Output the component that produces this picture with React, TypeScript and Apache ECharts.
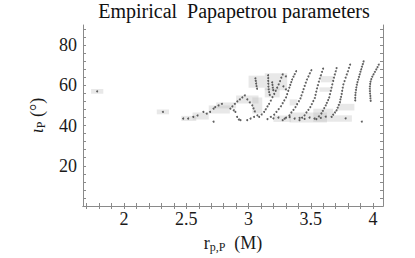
import React, { useEffect, useRef } from "react";
import * as echarts from "echarts";

const titleText = "Empirical  Papapetrou parameters";
const xLabels = [2, 2.5, 3, 3.5, 4];
const xTicks = [1.7, 1.8, 1.9, 2.0, 2.1, 2.2, 2.3, 2.4, 2.5, 2.6, 2.7, 2.8, 2.9, 3.0, 3.1, 3.2, 3.3, 3.4, 3.5, 3.6, 3.7, 3.8, 3.9, 4.0];
const yLabels = [20, 40, 60, 80];
const yTicks = [4, 8, 12, 16, 20, 24, 28, 32, 36, 40, 44, 48, 52, 56, 60, 64, 68, 72, 76, 80, 84, 88];

// gray uncertainty boxes: [xmin, xmax, ymin, ymax]
const boxes = [
  [1.735, 1.833, 55.8, 58.2],
  [2.263, 2.361, 45.6, 48.0],
  [2.46, 2.58, 42.3, 44.8],
  [2.55, 2.68, 43.0, 46.5],
  [2.68, 2.85, 46.0, 50.0],
  [2.74, 2.9, 48.5, 51.5],
  [2.9, 3.08, 51.0, 55.0],
  [3.0, 3.13, 58.8, 64.8],
  [3.13, 3.31, 57.5, 66.0],
  [3.13, 3.25, 54.0, 58.5],
  [3.03, 3.11, 46.0, 54.0],
  [3.2, 3.34, 41.8, 45.0],
  [3.33, 3.63, 41.5, 46.5],
  [3.52, 3.68, 41.9, 48.4],
  [3.58, 3.68, 61.5, 64.6],
  [3.57, 3.66, 56.8, 59.0],
  [3.72, 3.85, 47.5, 50.8],
  [3.68, 3.83, 41.9, 45.1],
  [3.33, 3.39, 50.0, 53.0],
];

// dots (x, y)
const dots = [
  [1.784, 57.0], [2.312, 46.8],
  // curve 1
  [4.046, 70.3], [4.036, 69.1], [4.026, 67.9], [4.015, 66.7], [4.004, 65.5], [3.994, 64.3], [3.986, 63.1], [3.98, 61.9],
  [3.977, 60.7], [3.975, 59.5], [3.974, 58.3], [3.975, 57.1], [3.976, 55.9], [3.978, 54.7], [3.979, 53.5], [3.981, 52.3],
  // curve 2
  [3.924, 71.9], [3.918, 70.6], [3.911, 69.3], [3.905, 68.0], [3.899, 66.8], [3.893, 65.5], [3.887, 64.2], [3.881, 62.9],
  [3.875, 61.6], [3.87, 60.3], [3.866, 59.0], [3.863, 57.7], [3.86, 56.4], [3.858, 55.1], [3.857, 53.8], [3.857, 52.5],
  // curve 3
  [3.816, 70.3], [3.807, 68.7], [3.798, 67.0], [3.789, 65.4], [3.78, 63.8], [3.771, 62.1], [3.762, 60.5], [3.757, 58.9],
  [3.752, 57.3], [3.748, 55.7], [3.743, 54.3], [3.738, 53.0], [3.734, 51.6], [3.725, 50.3], [3.716, 48.9], [3.707, 47.6],
  [3.694, 46.5], [3.68, 45.4], [3.667, 44.3],
  // curve 4
  [3.707, 68.6], [3.7, 67.0], [3.693, 65.4], [3.686, 63.8], [3.68, 62.2], [3.673, 60.5], [3.667, 58.9], [3.661, 57.3],
  [3.654, 55.6], [3.648, 54.0], [3.639, 52.7], [3.629, 51.3], [3.62, 50.0], [3.608, 48.7], [3.597, 47.3], [3.585, 46.0],
  [3.565, 44.6], [3.545, 43.2],
  // curve 5
  [3.599, 68.3], [3.59, 66.7], [3.581, 65.0], [3.572, 63.4], [3.565, 61.8], [3.557, 60.1], [3.55, 58.5], [3.544, 56.9],
  [3.538, 55.3], [3.532, 53.7], [3.52, 52.2], [3.508, 50.7], [3.496, 49.2], [3.481, 47.8], [3.465, 46.5], [3.45, 45.1],
  [3.43, 43.9], [3.409, 42.7],
  // curve 6
  [3.504, 67.5], [3.492, 66.0], [3.481, 64.4], [3.469, 62.9], [3.46, 61.3], [3.451, 59.7], [3.442, 58.1], [3.434, 56.6],
  [3.425, 55.0], [3.417, 53.5], [3.404, 52.1], [3.39, 50.6], [3.377, 49.2], [3.361, 47.8], [3.344, 46.5], [3.328, 45.1],
  [3.301, 43.9], [3.274, 42.7],
  // curve 7
  [3.382, 67.0], [3.371, 65.6], [3.361, 64.3], [3.35, 62.9], [3.343, 61.6], [3.335, 60.2], [3.328, 58.9], [3.319, 57.3],
  [3.31, 55.6], [3.301, 54.0], [3.287, 52.5], [3.274, 51.1], [3.26, 49.6], [3.242, 48.2], [3.224, 46.8], [3.206, 45.4],
  [3.179, 44.3], [3.152, 43.2],
  // curve 8
  [3.274, 65.4], [3.263, 63.8], [3.253, 62.1], [3.242, 60.5], [3.23, 58.9], [3.218, 57.3], [3.206, 55.7], [3.192, 54.1],
  [3.179, 52.4], [3.165, 50.8], [3.152, 49.5], [3.138, 48.1], [3.125, 46.8], [3.105, 45.5], [3.085, 44.3],
  // columns in upper boxes
  [3.157, 65.0], [3.158, 63.6], [3.158, 62.2], [3.159, 60.8], [3.16, 59.4], [3.162, 58.0], [3.165, 56.6], [3.17, 55.2],
  [3.055, 63.5], [3.058, 62.2], [3.061, 60.9], [3.064, 59.6], [3.068, 58.3],
  [3.19, 61.5], [3.192, 60.2], [3.195, 58.9], [3.198, 57.6],
  [3.28, 59.5], [3.3, 58.0], [3.3, 64.5],
  // lower-left
  [2.475, 43.5], [2.515, 43.5], [2.556, 44.3], [2.59, 45.0], [2.637, 46.8], [2.664, 45.9], [2.691, 46.8], [2.719, 48.4],
  [2.732, 49.2], [2.759, 50.0], [2.786, 50.8], [2.719, 41.9], [2.854, 48.4], [2.881, 47.6], [2.894, 46.8], [2.908, 44.3],
  [2.922, 43.0], [2.935, 42.7], [2.989, 42.7], [3.016, 43.5], [3.044, 44.3], [3.071, 45.1],
  [2.87, 49.5], [2.89, 50.8], [2.91, 52.0], [2.93, 53.0], [2.95, 54.0], [2.97, 55.0],
  [2.99, 53.0], [3.01, 51.5], [3.03, 50.0], [3.04, 48.5], [3.05, 47.0],
  // bottom band
  [3.2, 43.6], [3.24, 44.0], [3.29, 43.4], [3.33, 44.2], [3.37, 43.5], [3.41, 43.8], [3.45, 43.3], [3.49, 44.0],
  [3.53, 43.5], [3.58, 43.8], [3.62, 44.4], [3.78, 43.6], [3.91, 42.0],
];

const FRAME = "#8a8a8a";
const SERIF = "Liberation Serif";

export default function App() {
  const ref = useRef<HTMLDivElement>(null);
  useEffect(() => {
    const chart = echarts.init(ref.current!, null, { renderer: "svg" });
    const tickCommon = {
      show: true,
      inside: true,
      length: 3,
      lineStyle: { color: FRAME, width: 1 },
    };
    const xBase = {
      type: "value",
      min: 1.67,
      max: 4.08,
      splitLine: { show: false },
      axisLine: { show: true, lineStyle: { color: FRAME, width: 1 } },
    };
    const yBase = {
      type: "value",
      min: 0,
      max: 90,
      splitLine: { show: false },
      axisLine: { show: true, lineStyle: { color: FRAME, width: 1 } },
    };
    chart.setOption({
      animation: false,
      backgroundColor: "#ffffff",
      textStyle: { fontFamily: SERIF },
      grid: { left: 83, right: 32, top: 25, bottom: 48, containLabel: false },
      graphic: [
        {
          type: "text",
          x: 234,
          y: 11,
          style: {
            text: titleText,
            textAlign: "center",
            textVerticalAlign: "middle",
            font: "20px " + SERIF,
            fontFamily: SERIF,
            fontSize: 20,
            fill: "#111",
          },
        },
      ],
      xAxis: [
        {
          ...xBase,
          position: "bottom",
          axisTick: { ...tickCommon, customValues: xTicks },
          axisLabel: {
            customValues: xLabels,
            fontFamily: SERIF,
            fontSize: 18,
            color: "#1a1a1a",
            margin: 4,
          },
          name: "{r|r}{sub|p,P}{r|  (M)}",
          nameLocation: "middle",
          nameGap: 27,
          nameTextStyle: {
            fontFamily: SERIF,
            rich: {
              r: { fontFamily: SERIF, fontSize: 18, color: "#1a1a1a" },
              sub: { fontFamily: SERIF, fontSize: 12, color: "#1a1a1a", padding: [8, 0, 0, 0] },
            },
          },
        },
        {
          ...xBase,
          position: "top",
          axisTick: { ...tickCommon, customValues: xTicks },
          axisLabel: { show: false },
        },
      ],
      yAxis: [
        {
          ...yBase,
          position: "left",
          axisTick: { ...tickCommon, customValues: yTicks },
          axisLabel: {
            customValues: yLabels,
            fontFamily: SERIF,
            fontSize: 18,
            color: "#1a1a1a",
            margin: 6,
          },
          name: "{i|ι}{sub|P}{r| (°)}",
          nameLocation: "middle",
          nameRotate: 90,
          nameGap: 36,
          nameTextStyle: {
            fontFamily: SERIF,
            rich: {
              i: { fontFamily: SERIF, fontSize: 18, fontStyle: "italic", color: "#1a1a1a" },
              r: { fontFamily: SERIF, fontSize: 18, color: "#1a1a1a" },
              sub: { fontFamily: SERIF, fontSize: 12, color: "#1a1a1a", padding: [8, 0, 0, 0] },
            },
          },
        },
        {
          ...yBase,
          position: "right",
          axisTick: { ...tickCommon, customValues: yTicks },
          axisLabel: { show: false },
        },
      ],
      series: [
        {
          type: "custom",
          xAxisIndex: 0,
          yAxisIndex: 0,
          encode: { x: [0, 1], y: [2, 3] },
          data: boxes,
          renderItem: (params: any, api: any) => {
            const p1 = api.coord([api.value(0), api.value(3)]);
            const p2 = api.coord([api.value(1), api.value(2)]);
            return {
              type: "rect",
              shape: { x: p1[0], y: p1[1], width: p2[0] - p1[0], height: p2[1] - p1[1] },
              style: { fill: "rgba(185,185,185,0.32)" },
            };
          },
          silent: true,
        },
        {
          type: "scatter",
          xAxisIndex: 0,
          yAxisIndex: 0,
          data: dots,
          symbol: "circle",
          symbolSize: 2,
          itemStyle: { color: "#3a3a3a" },
          silent: true,
        },
      ],
    });
    return () => chart.dispose();
  }, []);
  return (
    <div
      ref={ref}
      style={{ position: "fixed", left: 0, top: 0, width: 415, height: 258 }}
    />
  );
}
